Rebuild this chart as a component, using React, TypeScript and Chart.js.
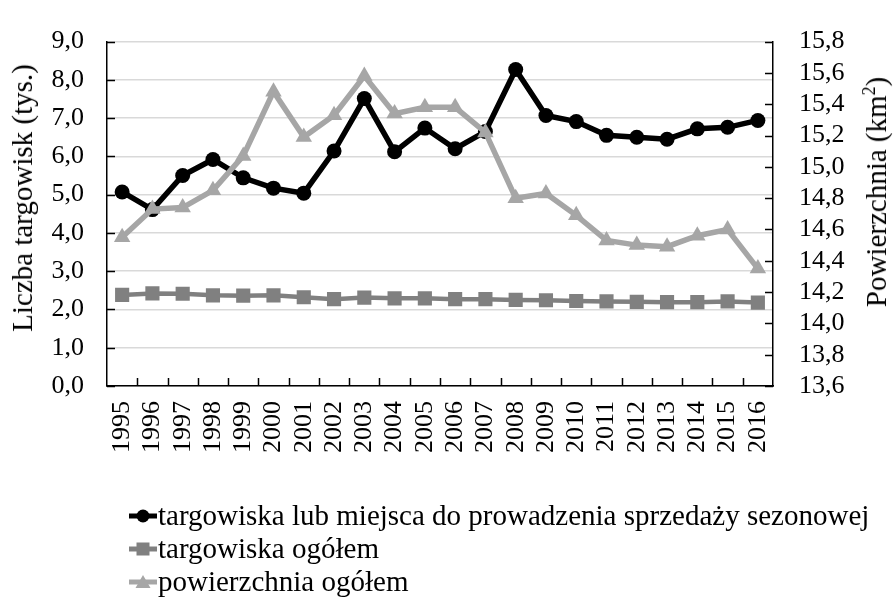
import React, { useEffect, useRef } from "react";
import { Chart, registerables } from "chart.js";

Chart.register(...registerables);

const YEARS = ["1995","1996","1997","1998","1999","2000","2001","2002","2003","2004","2005","2006","2007","2008","2009","2010","2011","2012","2013","2014","2015","2016"];
const SEASONAL = [5.07,4.61,5.50,5.92,5.44,5.17,5.04,6.14,7.51,6.12,6.74,6.20,6.65,8.27,7.07,6.91,6.55,6.50,6.45,6.72,6.76,6.94];
const TOTAL = [2.38,2.42,2.41,2.37,2.36,2.37,2.32,2.27,2.31,2.29,2.29,2.27,2.27,2.25,2.24,2.22,2.21,2.20,2.19,2.19,2.21,2.18];
const AREA = [14.55,14.73,14.74,14.85,15.07,15.48,15.19,15.33,15.58,15.34,15.38,15.38,15.22,14.80,14.83,14.69,14.53,14.50,14.49,14.56,14.60,14.35];

const LEGEND = [
  { label: "targowiska lub miejsca do prowadzenia sprzedaży sezonowej", color: "#000000", shape: "circle" },
  { label: "targowiska ogółem", color: "#808080", shape: "rect" },
  { label: "powierzchnia ogółem", color: "#a6a6a6", shape: "triangle" },
];

const FONT = "'Liberation Serif', 'Times New Roman', serif";
const fmt = (v: number) => Number(v).toFixed(1).replace(".", ",");

const tickMarks = {
  id: "tickMarks",
  afterDatasetsDraw(chart: any) {
    const { ctx, chartArea, scales } = chart;
    const { left, right, bottom } = chartArea;
    ctx.save();
    ctx.strokeStyle = "#000";
    ctx.lineWidth = 1.5;
    ctx.beginPath();
    scales.y.ticks.forEach((t: any) => {
      const p = Math.round(scales.y.getPixelForValue(t.value)) + 0.5;
      ctx.moveTo(left, p);
      ctx.lineTo(left + 8, p);
    });
    scales.y1.ticks.forEach((t: any) => {
      const p = Math.round(scales.y1.getPixelForValue(t.value)) + 0.5;
      ctx.moveTo(right - 8, p);
      ctx.lineTo(right, p);
    });
    const n = YEARS.length;
    for (let i = 1; i < n; i++) {
      const x = Math.round(left + ((right - left) * i) / n) + 0.5;
      ctx.moveTo(x, bottom);
      ctx.lineTo(x, bottom - 8);
    }
    ctx.stroke();
    ctx.restore();
  },
};

function Swatch({ color, shape }: { color: string; shape: string }) {
  return (
    <svg width="28" height="16" style={{ display: "block" }}>
      <line x1="0" y1="8" x2="28" y2="8" stroke={color} strokeWidth="5" />
      {shape === "circle" && <circle cx="14" cy="8" r="6.5" fill={color} />}
      {shape === "rect" && <rect x="7.5" y="1.5" width="13" height="13" fill={color} />}
      {shape === "triangle" && <polygon points="14,1 21.5,14 6.5,14" fill={color} />}
    </svg>
  );
}

export default function App() {
  const ref = useRef<HTMLCanvasElement | null>(null);
  useEffect(() => {
    if (!ref.current) return;
    const tickFont = { family: FONT, size: 26 };
    const chart = new Chart(ref.current, {
      type: "line",
      data: {
        labels: YEARS,
        datasets: [
          {
            label: LEGEND[0].label,
            data: SEASONAL,
            yAxisID: "y",
            borderColor: "#000",
            backgroundColor: "#000",
            borderWidth: 5.5,
            pointStyle: "circle",
            pointRadius: 7.5,
            pointBorderWidth: 0,
            order: 2,
          },
          {
            label: LEGEND[1].label,
            data: TOTAL,
            yAxisID: "y",
            borderColor: "#808080",
            backgroundColor: "#808080",
            borderWidth: 4.5,
            pointStyle: "rect",
            pointRadius: 10,
            pointBorderWidth: 0,
            order: 1,
          },
          {
            label: LEGEND[2].label,
            data: AREA,
            yAxisID: "y1",
            borderColor: "#a6a6a6",
            backgroundColor: "#a6a6a6",
            borderWidth: 5.5,
            pointStyle: "triangle",
            pointRadius: 9.5,
            pointBorderWidth: 0,
            order: 0,
          },
        ],
      },
      options: {
        animation: false,
        responsive: false,
        maintainAspectRatio: false,
        layout: { padding: { top: 23, left: 0, right: 0, bottom: 0 } },
        plugins: { legend: { display: false }, tooltip: { enabled: false } },
        elements: { line: { tension: 0 } },
        scales: {
          x: {
            offset: true,
            grid: { display: false, drawTicks: false },
            border: { display: true, color: "#000", width: 1.5 },
            ticks: {
              font: tickFont,
              color: "#000",
              maxRotation: 90,
              minRotation: 90,
              padding: 15,
              autoSkip: false,
            },
            afterFit: (s: any) => { s.height = 216; },
          },
          y: {
            position: "left",
            min: 0,
            max: 9,
            grid: { color: "#d9d9d9", lineWidth: 1.5, drawTicks: false },
            border: { display: true, color: "#000", width: 1.5 },
            ticks: {
              stepSize: 1,
              font: tickFont,
              color: "#000",
              padding: 23,
              autoSkip: false,
              callback: (v: any) => fmt(v),
            },
            afterFit: (s: any) => { s.width = 107; },
          },
          y1: {
            position: "right",
            min: 13.6,
            max: 15.8,
            grid: { display: false, drawTicks: false },
            border: { display: true, color: "#000", width: 1.5 },
            ticks: {
              stepSize: 0.2,
              font: tickFont,
              color: "#000",
              padding: 26,
              autoSkip: false,
              callback: (v: any) => fmt(v),
            },
            afterFit: (s: any) => { s.width = 120; },
          },
        },
      },
      plugins: [tickMarks],
    });
    return () => chart.destroy();
  }, []);

  return (
    <div style={{ position: "absolute", left: 0, top: 0, width: 893, height: 602, background: "#fff", fontFamily: FONT, color: "#000" }}>
      <canvas ref={ref} width={893} height={602} style={{ position: "absolute", left: 0, top: 0, width: 893, height: 602 }} />
      <div style={{ position: "absolute", left: 22, top: 198, transform: "translate(-50%, -50%) rotate(-90deg)", whiteSpace: "nowrap", fontSize: 29, lineHeight: "32px" }}>
        Liczba targowisk (tys.)
      </div>
      <div style={{ position: "absolute", left: 876, top: 192, transform: "translate(-50%, -50%) rotate(-90deg)", whiteSpace: "nowrap", fontSize: 29, lineHeight: "32px" }}>
        Powierzchnia (km<sup style={{ fontSize: 18, lineHeight: 0 }}>2</sup>)
      </div>
      <div style={{ position: "absolute", left: 129, top: 499 }}>
        {LEGEND.map((l) => (
          <div key={l.label} style={{ display: "flex", alignItems: "center", height: 33, fontSize: 29, whiteSpace: "nowrap" }}>
            <Swatch color={l.color} shape={l.shape} />
            <span style={{ marginLeft: 1 }}>{l.label}</span>
          </div>
        ))}
      </div>
    </div>
  );
}
